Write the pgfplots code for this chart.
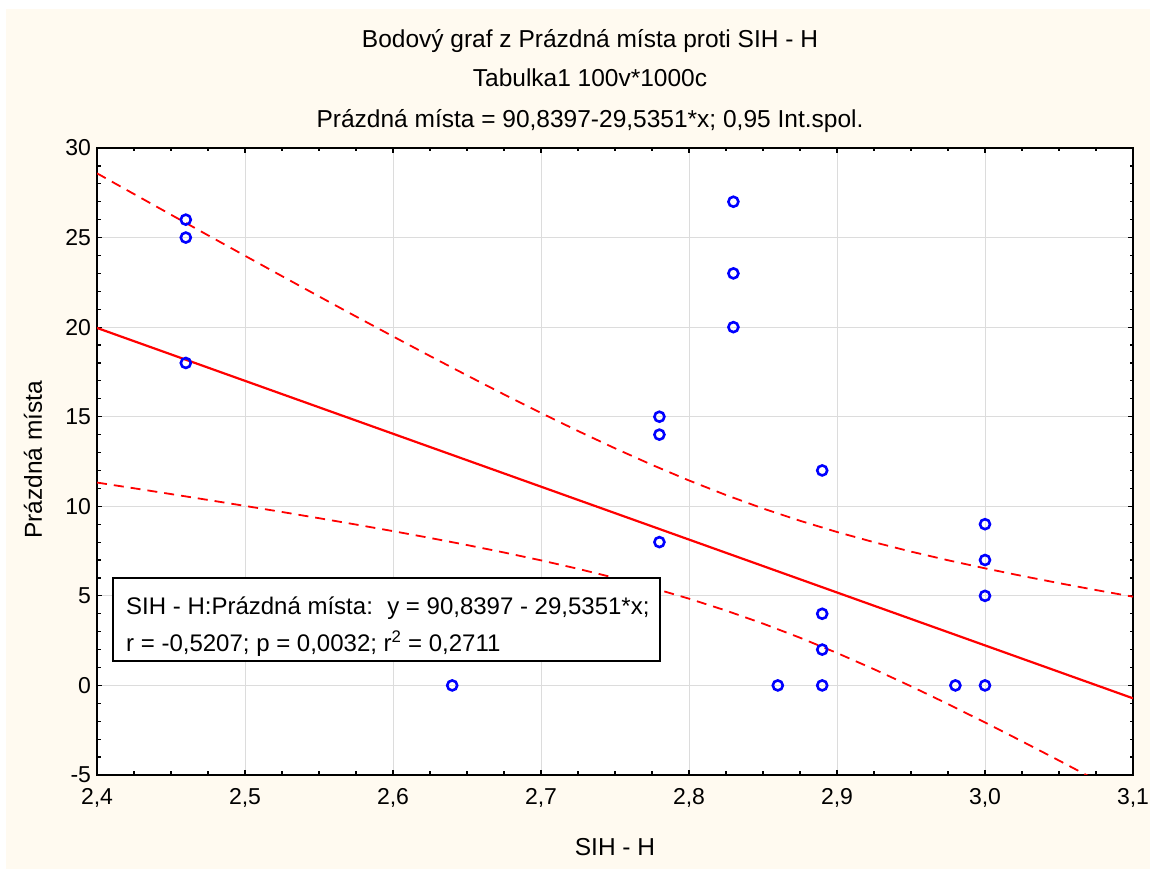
\documentclass[border=0pt]{standalone}
\usepackage{fontspec}
\setmainfont{Liberation Sans}
\usepackage{pgfplots}
\pgfplotsset{compat=1.18}
\definecolor{cream}{HTML}{FFFAF0}
\definecolor{gridgray}{HTML}{DCDCDC}
\definecolor{ptblue}{HTML}{0000FF}
\definecolor{fitred}{HTML}{FF0000}

\pgfplotstableread{
x     y
2.46  26
2.46  25
2.46  18
2.64  0
2.78  15
2.78  14
2.78  8
2.83  27
2.83  23
2.83  20
2.86  0
2.89  12
2.89  4
2.89  2
2.89  0
2.98  0
3.00  9
3.00  7
3.00  5
3.00  0
}\points

\pgfplotstableread{
x      up      lo
2.400  28.587  11.324
2.425  27.429  11.005
2.450  26.276  10.682
2.475  25.127  10.354
2.500  23.983  10.021
2.525  22.846  9.682
2.550  21.715  9.335
2.575  20.594  8.980
2.600  19.484  8.613
2.625  18.387  8.233
2.650  17.306  7.837
2.675  16.245  7.421
2.700  15.209  6.981
2.725  14.203  6.510
2.750  13.235  6.001
2.775  12.311  5.448
2.800  11.440  4.843
2.825  10.627  4.179
2.850  9.877   3.452
2.875  9.191   2.662
2.900  8.565   1.811
2.925  7.994   0.905
2.950  7.470   -0.048
2.975  6.987   -1.041
3.000  6.536   -2.068
3.025  6.112   -3.120
3.050  5.709   -4.193
3.075  5.324   -5.286
3.100  4.953   -6.391
}\bands

\begin{document}
\begin{tikzpicture}[x=1pt,y=1pt,font=\fontsize{23}{27}\selectfont]
\useasboundingbox (0pt,0pt) rectangle (1150pt,869pt);
\fill[white] (0pt,0pt) rectangle (1150pt,869pt);
\fill[cream] (6pt,0pt) rectangle (1150pt,860pt);
\begin{axis}[at={(97pt,94pt)},anchor=south west,scale only axis,
    width=1036pt,height=627pt,
    xmin=2.4,xmax=3.1,ymin=-5,ymax=30,
    xtick={2.4,2.5,2.6,2.7,2.8,2.9,3.0,3.1},
    ytick={-5,0,5,10,15,20,25,30},
    minor x tick num=3,minor y tick num=4,
    grid=major,major grid style={gridgray,line width=1pt},
    tick align=inside,major tick length=5pt,minor tick length=3.5pt,
    tick style={black,line width=1.2pt},
    axis line style={line width=2pt},
    axis background/.style={fill=white},
    xticklabel style={yshift=-10pt,/pgf/number format/.cd,fixed,fixed zerofill,precision=1,use comma,assume math mode=true},
    yticklabel style={xshift=-2.5pt,/pgf/number format/.cd,assume math mode=true},
    ]
\addplot[fitred,line width=1.8pt,dash pattern=on 10pt off 7pt] table[x=x,y=up]{\bands};
\addplot[fitred,line width=1.8pt,dash pattern=on 10pt off 7pt] table[x=x,y=lo]{\bands};
\addplot[fitred,line width=2.2pt] coordinates {(2.4,19.9555) (3.1,-0.7191)};
\addplot[only marks,mark=o,mark size=5pt,ptblue,mark options={line width=2.6pt}] table[x=x,y=y]{\points};
\end{axis}
\draw[line width=2pt,fill=white] (113pt,208pt) rectangle (660pt,291pt);
\begin{scope}[font=\fontsize{24}{29}\selectfont]
\node[anchor=base west,inner sep=0] at (126pt,254pt) {SIH - H:Prázdná místa:\hspace{0.6em}y = 90,8397 - 29,5351*x;};
\node[anchor=base west,inner sep=0] at (126pt,217pt) {r = -0,5207; p = 0,0032; r\textsuperscript{2} = 0,2711};
\end{scope}
\begin{scope}[font=\fontsize{24.5}{29}\selectfont]
\node[anchor=base,inner sep=0] at (590pt,821pt) {Bodový graf z Prázdná místa proti SIH - H};
\node[anchor=base,inner sep=0] at (590pt,782pt) {Tabulka1 100v*1000c};
\node[anchor=base,inner sep=0] at (590pt,741pt) {Prázdná místa = 90,8397-29,5351*x; 0,95 Int.spol.};
\node[anchor=base,inner sep=0] at (615pt,13pt) {SIH - H};
\node[rotate=90,inner sep=0] at (33pt,409pt) {Prázdná místa};
\end{scope}
\end{tikzpicture}
\end{document}
